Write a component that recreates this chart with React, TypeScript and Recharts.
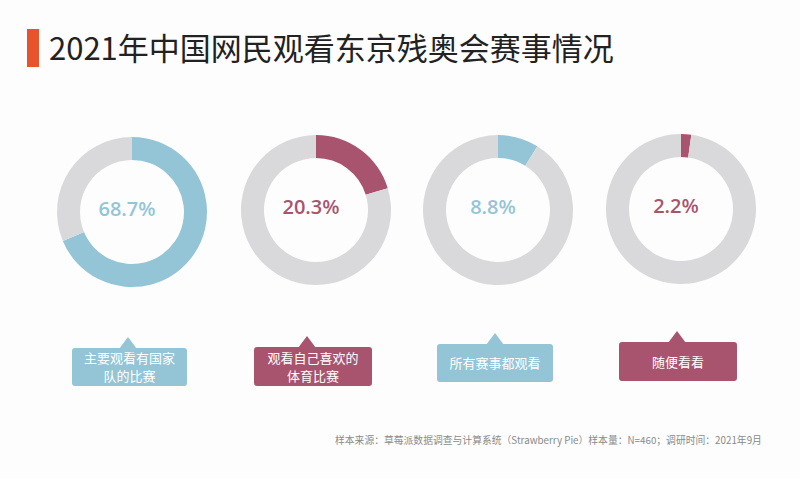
import React from "react";
import { PieChart, Pie, Cell } from "recharts";

const categories = ["主要观看有国家队的比赛", "观看自己喜欢的体育比赛", "所有赛事都观看", "随便看看"];
const calloutLines = [["主要观看有国家", "队的比赛"], ["观看自己喜欢的", "体育比赛"], ["所有赛事都观看"], ["随便看看"]];
const values = [68.7, 20.3, 8.8, 2.2];
const seriesColors = ["#93c5d7", "#a9546f", "#93c5d7", "#a9546f"];
const titleText = "2021年中国网民观看东京残奥会赛事情况";
const sourceText = "样本来源：草莓派数据调查与计算系统（Strawberry Pie）样本量：N=460；调研时间：2021年9月";

const GREY = "#d9d9db";
const centersX = [127, 311, 493, 676];
const centersY = [207, 205, 205, 204];
const boxes = [
  { left: 72, top: 348, w: 115, h: 38, tip: 128 },
  { left: 254, top: 347, w: 118, h: 39, tip: 307 },
  { left: 437, top: 344, w: 116, h: 38, tip: 495 },
  { left: 619, top: 342, w: 118, h: 39, tip: 677 },
];

export default function App() {
  return (
    <div style={{ position: "absolute", left: 0, top: 0, width: 800, height: 479, background: "#fdfdfd", overflow: "hidden", fontFamily: "'Noto Sans CJK SC', 'Noto Sans', sans-serif" }}>
      <div style={{ position: "absolute", left: 27, top: 29, width: 12, height: 38, background: "#e8532e" }} />
      <div style={{ position: "absolute", left: 49, top: 25, fontSize: 31, lineHeight: "44px", color: "#222", whiteSpace: "nowrap" }}>{titleText}</div>
      <div style={{ position: "absolute", left: 0, top: 0 }}>
        <PieChart width={800} height={479}>
          {values.map((v, i) => (
            <Pie
              key={categories[i]}
              data={[{ name: categories[i], value: v }, { name: "其他", value: +(100 - v).toFixed(1) }]}
              dataKey="value"
              cx={centersX[i]}
              cy={centersY[i]}
              innerRadius={52}
              outerRadius={75}
              startAngle={90}
              endAngle={-270}
              stroke="none"
              isAnimationActive={false}
            >
              <Cell fill={seriesColors[i]} />
              <Cell fill={GREY} />
            </Pie>
          ))}
        </PieChart>
      </div>
      {values.map((v, i) => (
        <div key={"c" + i} style={{ position: "absolute", left: centersX[i] - 50, top: centersY[i] - 12, width: 100, height: 28, lineHeight: "28px", textAlign: "center", color: seriesColors[i], fontSize: 20, fontWeight: 600, fontFamily: "'Open Sans', sans-serif" }}>
          {`${v}%`}
        </div>
      ))}
      {boxes.map((b, i) => (
        <React.Fragment key={categories[i]}>
          <div style={{ position: "absolute", left: b.tip - 9, top: b.top - 11, width: 0, height: 0, borderLeft: "9px solid transparent", borderRight: "9px solid transparent", borderBottom: `12px solid ${seriesColors[i]}` }} />
          <div style={{ position: "absolute", left: b.left, top: b.top, width: b.w, height: b.h, background: seriesColors[i], borderRadius: 3, display: "flex", flexDirection: "column", alignItems: "center", justifyContent: "center", color: "#fff", fontSize: 13, lineHeight: "18px" }}>
            {calloutLines[i].map((l) => (
              <div key={l} style={{ height: 18 }}>{l}</div>
            ))}
          </div>
        </React.Fragment>
      ))}
      <div style={{ position: "absolute", left: 335, top: 433, fontSize: 9.8, lineHeight: "14px", color: "#8a8a8a", whiteSpace: "nowrap" }}>{sourceText}</div>
    </div>
  );
}
